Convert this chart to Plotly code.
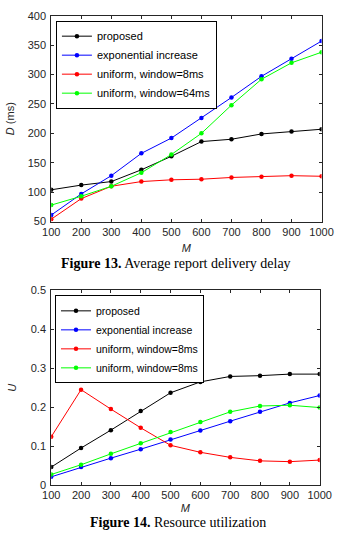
import plotly.graph_objects as go

M = [100, 200, 300, 400, 500, 600, 700, 800, 900, 1000]

# Figure 13: average report delivery delay D (ms)
D_proposed = [104, 112, 118, 138, 161, 186, 190, 199, 203, 207]
D_exponential = [61, 97, 128, 166, 192, 226, 261, 297, 327, 357]
D_uniform8 = [54, 89, 110, 118, 121, 122, 125, 126, 128, 127]
D_uniform64 = [78, 93, 110, 133, 164, 200, 248, 292, 320, 338]

# Figure 14: resource utilization U
U_proposed = [0.046, 0.095, 0.141, 0.190, 0.237, 0.265, 0.279, 0.281, 0.285, 0.285]
U_exponential = [0.021, 0.046, 0.069, 0.092, 0.117, 0.140, 0.164, 0.188, 0.211, 0.230]
U_uniform8 = [0.124, 0.245, 0.195, 0.147, 0.102, 0.084, 0.071, 0.062, 0.060, 0.064]
U_uniform8b = [0.027, 0.052, 0.080, 0.107, 0.136, 0.162, 0.188, 0.203, 0.205, 0.199]

top_names = ["proposed", "exponential increase", "uniform, window=8ms", "uniform, window=64ms"]
bot_names = ["proposed", "exponential increase", "uniform, window=8ms", "uniform, window=8ms"]
colors = ["#000000", "#0000ff", "#ff0000", "#00ff00"]

W, H = 342, 534

def px_x(p):
    return p / W

def px_y(p):
    return 1 - p / H

fig = go.Figure()

for ys, name, c in zip([D_proposed, D_exponential, D_uniform8, D_uniform64], top_names, colors):
    fig.add_trace(go.Scatter(x=M, y=ys, name=name, mode="lines+markers",
                             line=dict(color=c, width=1), marker=dict(color=c, size=4.5),
                             xaxis="x", yaxis="y", legend="legend"))

for ys, name, c in zip([U_proposed, U_exponential, U_uniform8, U_uniform8b], bot_names, colors):
    fig.add_trace(go.Scatter(x=M, y=ys, name=name, mode="lines+markers",
                             line=dict(color=c, width=1), marker=dict(color=c, size=4.5),
                             xaxis="x2", yaxis="y2", legend="legend2"))

tickfont = dict(family="Liberation Sans, Arial", size=11, color="#262626")
titlefont = dict(family="Liberation Sans, Arial", size=11, color="#262626")
axcommon = dict(showline=True, linecolor="#262626", linewidth=1, mirror="ticks",
                ticks="inside", ticklen=3, tickcolor="#262626", showgrid=False,
                zeroline=False, tickfont=tickfont, ticklabeloverflow="allow")

fig.update_layout(
    width=W, height=H,
    margin=dict(l=0, r=0, t=0, b=0),
    paper_bgcolor="white", plot_bgcolor="white",
    xaxis=dict(domain=[px_x(45), px_x(333)], range=[100, 1000], tickmode="array",
               tickvals=M, anchor="y",
               title=dict(text="<i>M</i>", font=titlefont, standoff=7),
               **axcommon),
    yaxis=dict(domain=[px_y(220.5), px_y(10)], range=[50, 400], dtick=50, anchor="x",
               title=dict(text="<i>D</i> (ms)", font=titlefont, standoff=10),
               ticklabelstandoff=2,
               **axcommon),
    xaxis2=dict(domain=[px_x(45), px_x(331)], range=[100, 1000], tickmode="array",
                tickvals=M, anchor="y2",
                title=dict(text="<i>M</i>", font=titlefont, standoff=4),
                **axcommon),
    yaxis2=dict(domain=[px_y(490), px_y(291)], range=[0, 0.5], dtick=0.1, anchor="x2",
                title=dict(text="<i>U</i>", font=titlefont, standoff=11),
                ticklabelstandoff=2,
                **axcommon),
    legend=dict(x=px_x(50), y=px_y(15), xanchor="left", yanchor="top",
                bgcolor="white", bordercolor="#000000", borderwidth=1,
                font=dict(family="Liberation Sans, Arial", size=11, color="#000000"),
                tracegroupgap=0),
    legend2=dict(x=px_x(49), y=px_y(296), xanchor="left", yanchor="top",
                 bgcolor="white", bordercolor="#000000", borderwidth=1,
                 font=dict(family="Liberation Sans, Arial", size=10.5, color="#000000"),
                 tracegroupgap=0),
    showlegend=True,
)

fig.add_annotation(text="<b>Figure 13.</b> Average report delivery delay",
                   x=px_x(177.5), y=px_y(263), xref="paper", yref="paper",
                   xanchor="center", yanchor="middle", showarrow=False,
                   font=dict(family="Liberation Serif, Times New Roman", size=14, color="#000000"))
fig.add_annotation(text="<b>Figure 14.</b> Resource utilization",
                   x=px_x(180), y=px_y(528), xref="paper", yref="paper",
                   xanchor="center", yanchor="middle", showarrow=False,
                   font=dict(family="Liberation Serif, Times New Roman", size=14, color="#000000"))

fig.write_html("out.html")
